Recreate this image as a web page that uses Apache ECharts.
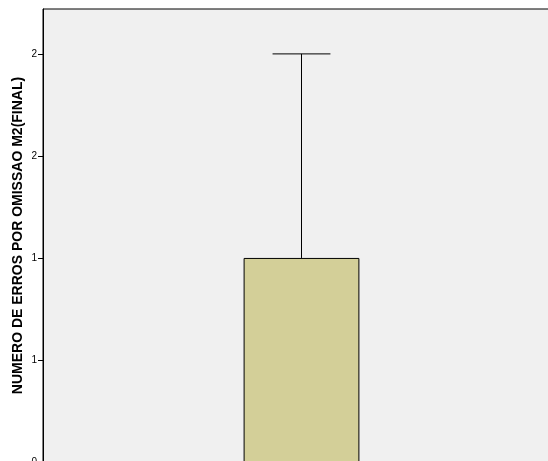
<!DOCTYPE html>
<html>
<head>
<meta charset="utf-8">
<script src="https://cdn.jsdelivr.net/npm/echarts@6/dist/echarts.min.js"></script>
<style>
  html, body { margin: 0; padding: 0; background: #fff; }
  #chart { width: 548px; height: 461px; }
</style>
</head>
<body>
<div id="chart"></div>
<script>
// data
const categories = ['']
const means = [1.0]
const upper = [2.0]
const tickValues = [0, 0.5, 1, 1.5, 2]
const tickLabels = ['0', '1', '1', '2', '2']

const chart = echarts.init(document.getElementById('chart'))

const option = {
  backgroundColor: '#ffffff',
  animation: false,
  grid: {
    left: 43,
    top: 9,
    right: -12,
    bottom: -1,
    outerBoundsMode: 'none',
    containLabel: false,
    show: true,
    backgroundColor: '#f0f0f0',
    borderColor: '#000000',
    borderWidth: 1
  },
  xAxis: {
    type: 'category',
    data: categories,
    axisLine: { show: false },
    axisTick: { show: false },
    axisLabel: { show: false }
  },
  yAxis: {
    type: 'value',
    min: 0,
    max: 2.22,
    interval: 0.5,
    name: 'NUMERO DE ERROS POR OMISSAO M2(FINAL)',
    nameLocation: 'middle',
    nameGap: 18,
    nameMoveOverlap: false,
    nameTextStyle: {
      fontFamily: 'Liberation Sans, Arial, sans-serif',
      fontSize: 14,
      fontWeight: 'bold',
      color: '#000'
    },
    axisLine: { show: true, lineStyle: { color: '#000', width: 1 } },
    axisTick: { show: true, length: 5, lineStyle: { color: '#000' } },
    splitLine: { show: false },
    axisLabel: {
      showMaxLabel: false,
      margin: 6,
      fontFamily: 'Liberation Sans, Arial, sans-serif',
      fontSize: 10,
      color: '#000',
      formatter: function (v) {
        const i = tickValues.indexOf(v)
        return i >= 0 ? tickLabels[i] : ''
      }
    }
  },
  series: [
    {
      // error bar (upper part visible above the bar)
      type: 'custom',
      z: 1,
      data: means.map((m, i) => [i, m, upper[i]]),
      renderItem: function (params, api) {
        const base = api.coord([api.value(0), api.value(1)])
        const top = api.coord([api.value(0), api.value(2)])
        const half = api.size([1, 0])[0] * 0.056
        const style = { stroke: '#000', lineWidth: 1 }
        return {
          type: 'group',
          children: [
            { type: 'line', shape: { x1: top[0], y1: base[1], x2: top[0], y2: top[1] }, style: style },
            { type: 'line', shape: { x1: top[0] - half, y1: top[1], x2: top[0] + half, y2: top[1] }, style: style }
          ]
        }
      }
    },
    {
      type: 'bar',
      z: 2,
      data: means,
      barWidth: '22.4%',
      itemStyle: { color: '#d3cf98', borderColor: '#000', borderWidth: 1 }
    }
  ]
}

chart.setOption(option)
</script>
</body>
</html>
